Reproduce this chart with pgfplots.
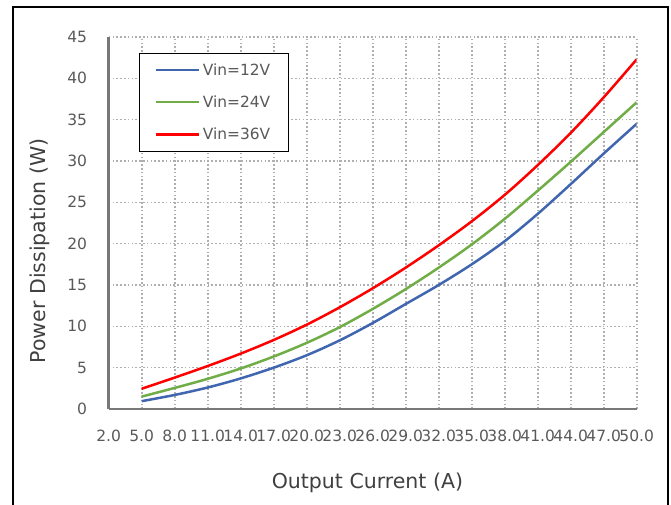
\documentclass[border=0pt]{standalone}
\usepackage{fontspec}
\setmainfont{DejaVu Sans}
\usepackage{pgfplots}
\pgfplotsset{compat=1.18}
\definecolor{cblue}{RGB}{64,102,176}
\definecolor{cgreen}{RGB}{112,173,71}
\definecolor{cred}{RGB}{255,0,0}
\definecolor{ticktext}{RGB}{89,89,89}
\definecolor{titletext}{RGB}{64,64,64}
\definecolor{axgray}{RGB}{120,120,120}
\definecolor{gridgray}{RGB}{175,175,175}
\begin{document}
\begin{tikzpicture}
\path[use as bounding box] (0pt,0pt) rectangle (671pt,504pt);
\draw[line width=2pt, black] (13pt,-20pt) -- (13pt,497pt) -- (668pt,497pt) -- (668pt,-20pt);
\begin{axis}[
  at={(108.7pt,95pt)}, anchor=south west,
  scale only axis, width=528pt, height=372pt,
  xmin=2, xmax=50, ymin=0, ymax=45,
  xtick={2,5,...,50}, ytick={0,5,...,45},
  /pgf/number format/assume math mode=true,
  ticklabel style={font=\fontsize{15.5}{18}\selectfont, text=ticktext, inner sep=0pt},
  xticklabel style={/pgf/number format/fixed, /pgf/number format/fixed zerofill, /pgf/number format/precision=1, anchor=center, yshift=-27pt},
  yticklabel style={anchor=east, xshift=-21.5pt},
  major tick length=0pt,
  axis lines*=left,
  axis line style={-, line width=2.5pt, color=axgray},
  grid=major,
  major grid style={line width=1.6pt, dash pattern=on 1.6pt off 2.2pt, color=gridgray},
  xlabel={Output Current (A)},
  ylabel={Power Dissipation (W)},
  label style={font=\fontsize{20.5}{24}\selectfont, text=titletext},
  xlabel style={at={(axis description cs:0.49,-0.199)}, anchor=center},
  ylabel style={at={(axis description cs:-0.130,0.425)}, anchor=center},
  legend style={at={(axis description cs:0.0574,0.957)}, anchor=north west,
    draw=black, line width=0.8pt, inner xsep=15pt, inner ysep=7pt,
    row sep=13pt, font=\fontsize{15.4}{18}\selectfont, text=ticktext,
    nodes={inner sep=3pt}},
  legend cell align=left,
  legend image code/.code={\draw[#1, line width=2.5pt] (0pt,0pt) -- (43pt,0pt);},
  every axis plot/.append style={line width=2.5pt, smooth, no markers},
]
\addplot[cblue] coordinates {
(5,0.95) (8,1.7) (11,2.6) (14,3.7) (17,5.0) (20,6.5) (23,8.3) (26,10.4)
(29,12.7) (32,15.0) (35,17.5) (38,20.3) (41,23.6) (44,27.2) (47,30.9) (50,34.5)};
\addlegendentry{Vin=12V}
\addplot[cgreen] coordinates {
(5,1.5) (8,2.55) (11,3.65) (14,4.9) (17,6.35) (20,8.0) (23,9.9) (26,12.1)
(29,14.5) (32,17.1) (35,19.9) (38,23.0) (41,26.4) (44,29.9) (47,33.5) (50,37.1)};
\addlegendentry{Vin=24V}
\addplot[cred] coordinates {
(5,2.45) (8,3.8) (11,5.2) (14,6.7) (17,8.35) (20,10.2) (23,12.3) (26,14.6)
(29,17.1) (32,19.8) (35,22.7) (38,25.9) (41,29.5) (44,33.4) (47,37.7) (50,42.3)};
\addlegendentry{Vin=36V}
\end{axis}
\end{tikzpicture}
\end{document}
